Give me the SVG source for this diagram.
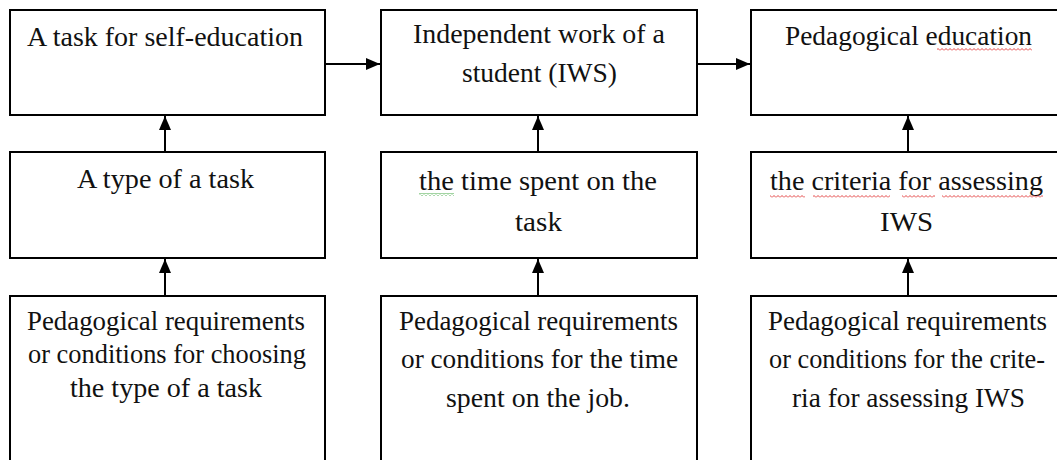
<svg xmlns="http://www.w3.org/2000/svg" width="1057" height="460" viewBox="0 0 1057 460">
<style>
.box{fill:#fff;stroke:#000;stroke-width:2}
text{font-family:'Liberation Serif','Times New Roman',serif;font-size:27.5px;fill:#111;text-anchor:middle}
.c{stroke:#000;stroke-width:2;fill:none}
</style>
<defs>
<marker id="ah" viewBox="0 0 14 12" refX="14" refY="6" markerWidth="14" markerHeight="12" markerUnits="userSpaceOnUse" orient="auto">
<path d="M0,0 L14,6 L0,12 Z" fill="#000"/>
</marker>
<pattern id="wr" width="4" height="3" patternUnits="userSpaceOnUse"><path d="M0,2.5 L2,0.5 L4,2.5" stroke="#e03030" stroke-width="0.9" fill="none"/></pattern>
<pattern id="wg" width="4" height="3" patternUnits="userSpaceOnUse"><path d="M0,2.5 L2,0.5 L4,2.5" stroke="#30a030" stroke-width="0.9" fill="none"/></pattern>
</defs>
<rect width="1057" height="460" fill="#fff"/>
<g id="connectors">
<line class="c" x1="325" y1="64" x2="380" y2="64" marker-end="url(#ah)"/>
<line class="c" x1="697" y1="64" x2="750" y2="64" marker-end="url(#ah)"/>
<line class="c" x1="165" y1="152" x2="165" y2="116" marker-end="url(#ah)"/>
<line class="c" x1="538" y1="152" x2="538" y2="116" marker-end="url(#ah)"/>
<line class="c" x1="908" y1="152" x2="908" y2="116" marker-end="url(#ah)"/>
<line class="c" x1="165" y1="296" x2="165" y2="259" marker-end="url(#ah)"/>
<line class="c" x1="538" y1="296" x2="538" y2="259" marker-end="url(#ah)"/>
<line class="c" x1="908" y1="296" x2="908" y2="259" marker-end="url(#ah)"/>
</g>
<g id="self-education">
<rect class="box" x="10" y="10" width="315" height="105"/>
<text x="165" y="46" textLength="276" lengthAdjust="spacingAndGlyphs">A task for self-education</text>
</g>
<g id="iws">
<rect class="box" x="381" y="10" width="316" height="105"/>
<text x="539" y="43" textLength="252" lengthAdjust="spacingAndGlyphs">Independent work of a</text>
<text x="539.5" y="82" textLength="155" lengthAdjust="spacingAndGlyphs">student (IWS)</text>
</g>
<g id="pedagogical-education">
<rect class="box" x="751" y="10" width="320" height="105"/>
<text x="908.5" y="45" textLength="247" lengthAdjust="spacingAndGlyphs">Pedagogical education</text>
<rect x="937" y="48" width="95" height="3" fill="url(#wr)"/>
</g>
<g id="task-type">
<rect class="box" x="10" y="152" width="315" height="106"/>
<text x="165.5" y="188" textLength="177" lengthAdjust="spacingAndGlyphs">A type of a task</text>
</g>
<g id="time-spent">
<rect class="box" x="381" y="152" width="316" height="106"/>
<text x="538" y="190" textLength="238" lengthAdjust="spacingAndGlyphs">the time spent on the</text>
<text x="538.5" y="231" textLength="47" lengthAdjust="spacingAndGlyphs">task</text>
<rect x="419" y="193" width="35" height="3" fill="url(#wg)"/>
</g>
<g id="criteria">
<rect class="box" x="751" y="152" width="320" height="106"/>
<text x="906.5" y="190" textLength="273" lengthAdjust="spacingAndGlyphs">the criteria  for assessing</text>
<text x="906.5" y="231" textLength="53" lengthAdjust="spacingAndGlyphs">IWS</text>
<rect x="770" y="195" width="35" height="3" fill="url(#wr)"/>
<rect x="813" y="195" width="77" height="3" fill="url(#wr)"/>
<rect x="902" y="195" width="33" height="3" fill="url(#wr)"/>
<rect x="942" y="195" width="101" height="3" fill="url(#wr)"/>
</g>
<g id="req-type">
<rect class="box" x="10" y="296" width="315" height="180"/>
<text x="166" y="330" textLength="278" lengthAdjust="spacingAndGlyphs">Pedagogical requirements</text>
<text x="167" y="363" textLength="278" lengthAdjust="spacingAndGlyphs">or conditions for choosing</text>
<text x="166" y="397" textLength="192" lengthAdjust="spacingAndGlyphs">the type of a task</text>
</g>
<g id="req-time">
<rect class="box" x="381" y="296" width="316" height="180"/>
<text x="538.5" y="330" textLength="279" lengthAdjust="spacingAndGlyphs">Pedagogical requirements</text>
<text x="539.5" y="368" textLength="277" lengthAdjust="spacingAndGlyphs">or conditions for the time</text>
<text x="538" y="407" textLength="184" lengthAdjust="spacingAndGlyphs">spent on the job.</text>
</g>
<g id="req-criteria">
<rect class="box" x="751" y="296" width="320" height="180"/>
<text x="907.5" y="330" textLength="279" lengthAdjust="spacingAndGlyphs">Pedagogical requirements</text>
<text x="907" y="368" textLength="276" lengthAdjust="spacingAndGlyphs">or conditions for the crite-</text>
<text x="908.5" y="407" textLength="233" lengthAdjust="spacingAndGlyphs">ria for assessing IWS</text>
</g>
</svg>
